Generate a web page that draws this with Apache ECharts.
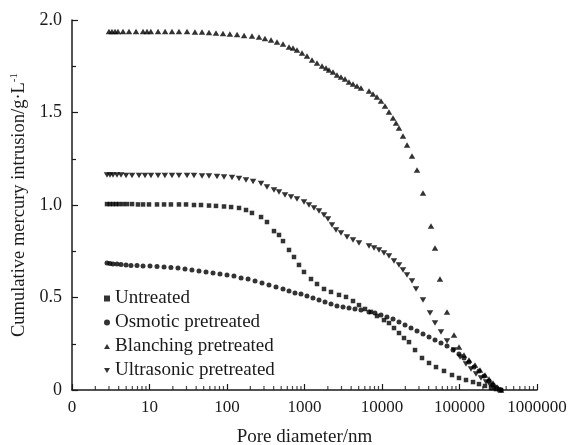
<!DOCTYPE html>
<html>
<head>
<meta charset="utf-8">
<script src="https://cdn.jsdelivr.net/npm/echarts@6/dist/echarts.min.js"></script>
<style>
html,body{margin:0;padding:0;background:#fff;}
#chart{width:571px;height:445px;}
</style>
</head>
<body>
<div id="chart"></div>
<script>
/* cumulative mercury intrusion vs pore diameter */
var names = ['Untreated', 'Osmotic pretreated', 'Blanching pretreated', 'Ultrasonic pretreated'];
var xTickLabels = ['0', '10', '100', '1000', '10000', '100000', '1000000'];
var yTickLabels = ['0', '0.5', '1.0', '1.5', '2.0'];

var untreated = [[2.83,1.005],[3.09,1.005],[3.38,1.005],[3.70,1.005],[4.04,1.005],[4.55,1.005],[5.13,1.005],[5.95,1.005],[7.10,1.003],[8.25,1.003],[9.85,1.003],[12.5,1.003],[15.4,1.003],[18.9,1.003],[24.0,1.003],[29.6,1.003],[37.5,1.000],[46.2,1.000],[58.6,0.997],[72.1,0.995],[91.5,0.992],[113,0.989],[143,0.984],[176,0.973],[210,0.957],[275,0.935],[328,0.908],[404,0.859],[469,0.838],[528,0.805],[631,0.757],[732,0.719],[849,0.676],[985,0.638],[1213,0.600],[1450,0.573],[1785,0.546],[2198,0.530],[2787,0.514],[3433,0.503],[4225,0.481],[5050,0.459],[6035,0.438],[7213,0.422],[8620,0.400],[10610,0.378],[12310,0.362],[14280,0.335],[16570,0.308],[19230,0.281],[22300,0.259],[26670,0.216],[32810,0.173],[40420,0.146],[49770,0.124],[63100,0.103],[80030,0.081],[98510,0.065],[121300,0.054],[149400,0.043],[178500,0.032],[213300,0.022],[255000,0.011],[295800,0.005],[343200,0]];

var osmotic = [[2.83,0.686],[3.09,0.684],[3.38,0.681],[3.81,0.681],[4.29,0.678],[4.98,0.676],[5.77,0.673],[6.90,0.673],[8.25,0.670],[10.15,0.670],[12.5,0.668],[15.4,0.665],[18.9,0.662],[23.3,0.659],[28.7,0.654],[35.3,0.649],[43.5,0.643],[53.6,0.638],[66.0,0.632],[81.2,0.627],[100,0.622],[123,0.616],[152,0.605],[187,0.600],[230,0.589],[283,0.578],[348,0.568],[429,0.557],[528,0.546],[631,0.535],[754,0.524],[901,0.519],[1077,0.508],[1287,0.497],[1539,0.486],[1839,0.476],[2198,0.465],[2626,0.454],[3140,0.449],[3753,0.443],[4483,0.438],[5358,0.432],[6796,0.422],[8122,0.416],[9707,0.405],[11600,0.395],[13870,0.384],[16570,0.368],[19810,0.351],[23670,0.335],[28300,0.319],[33810,0.303],[40420,0.286],[48310,0.270],[57710,0.254],[68990,0.238],[82450,0.216],[98510,0.195],[114300,0.173],[132600,0.151],[153900,0.124],[178500,0.103],[207100,0.076],[240300,0.049],[270600,0.027],[304800,0.011],[343200,0]];

var blanching = [[3.0,1.938],[3.28,1.938],[3.59,1.938],[3.92,1.938],[4.55,1.938],[5.44,1.938],[6.70,1.938],[8.25,1.938],[9.29,1.938],[10.4,1.938],[12.9,1.938],[15.9,1.938],[19.5,1.938],[24.0,1.938],[30.5,1.938],[38.6,1.935],[47.6,1.935],[58.6,1.932],[72.1,1.930],[88.8,1.927],[109,1.924],[135,1.922],[166,1.916],[210,1.914],[259,1.908],[309,1.900],[370,1.892],[442,1.881],[528,1.870],[631,1.854],[711,1.849],[800,1.838],[929,1.822],[1077,1.805],[1250,1.784],[1449,1.768],[1683,1.751],[1893,1.741],[2070,1.730],[2333,1.719],[2624,1.703],[2958,1.692],[3334,1.681],[3750,1.665],[4227,1.654],[4755,1.643],[5358,1.632],[6792,1.616],[7656,1.600],[8610,1.584],[9705,1.562],[10940,1.535],[12300,1.503],[13870,1.470],[15170,1.443],[16560,1.416],[18660,1.373],[21040,1.324],[24380,1.265],[28310,1.189],[33810,1.065],[42860,0.886],[48310,0.768],[55980,0.600],[69020,0.422],[84950,0.297],[98600,0.232],[114300,0.189],[132700,0.162],[158500,0.135],[184000,0.108],[213300,0.081],[240400,0.059],[270600,0.038],[304800,0.016],[343000,0]];

var ultrasonic = [[2.83,1.162],[3.09,1.162],[3.38,1.162],[3.81,1.162],[4.29,1.162],[4.98,1.159],[5.95,1.159],[7.32,1.159],[8.75,1.159],[10.45,1.159],[12.9,1.159],[15.8,1.159],[19.5,1.159],[24.0,1.159],[30.5,1.159],[37.5,1.159],[47.6,1.157],[58.6,1.157],[74.3,1.154],[91.5,1.151],[116,1.149],[143,1.143],[176,1.135],[217,1.127],[275,1.116],[328,1.097],[404,1.081],[469,1.070],[560,1.054],[670,1.043],[800,1.032],[985,1.016],[1143,1.000],[1327,0.984],[1539,0.968],[1785,0.946],[2010,0.924],[2264,0.892],[2550,0.865],[2958,0.849],[3536,0.827],[4225,0.811],[5050,0.795],[6796,0.778],[7886,0.768],[9148,0.757],[10610,0.741],[12310,0.724],[14280,0.697],[16570,0.676],[18660,0.649],[21020,0.622],[24380,0.589],[27470,0.546],[33810,0.486],[41630,0.416],[48310,0.362],[57710,0.314],[68990,0.265],[84940,0.216],[101500,0.178],[121300,0.141],[140700,0.114],[163300,0.086],[189400,0.065],[219800,0.043],[247500,0.027],[278700,0.011],[314000,0]];

// log minor ticks 2..9 in each decade
var minorTicks = [];
for (var k = 0; k < 6; k++) {
	for (var m = 2; m < 10; m++) {
		minorTicks.push([m * Math.pow(10, k), 0]);
	}
}

var font = 'Liberation Serif';
var ink = '#1a1a1a';

var myChart = echarts.init(document.getElementById('chart'));
var option = {
	backgroundColor: '#fff',
	animation: false,
	grid: {
		left: 72,
		right: 34,
		top: 20,
		bottom: 55,
		outerBoundsMode: 'none'
	},
	legend: {
		orient: 'vertical',
		left: 99,
		top: 284,
		itemWidth: 6,
		itemHeight: 6,
		itemGap: 5,
		textStyle: {
			fontFamily: font,
			fontSize: 19,
			color: ink
		},
		data: names
	},
	xAxis: {
		type: 'log',
		logBase: 10,
		min: 1,
		max: 1000000,
		name: 'Pore diameter/nm',
		nameLocation: 'middle',
		nameGap: 38,
		nameTextStyle: {
			fontFamily: font,
			fontSize: 19,
			color: ink
		},
		axisLine: {
			lineStyle: { color: ink, width: 1.5 }
		},
		axisTick: {
			inside: true,
			length: 6,
			lineStyle: { color: ink, width: 1.2 }
		},
		axisLabel: {
			fontFamily: font,
			fontSize: 17,
			color: ink,
			margin: 9,
			showMaxLabel: true,
			formatter: function (v) {
				return xTickLabels[Math.round(Math.log10(v))];
			}
		},
		splitLine: { show: false }
	},
	yAxis: {
		type: 'value',
		min: 0,
		max: 2,
		interval: 0.5,
		name: 'Cumulative mercury intrusion/g·L{sup|-1}',
		nameLocation: 'middle',
		nameGap: 42,
		nameTextStyle: {
			fontFamily: font,
			fontSize: 18.5,
			color: ink,
			rich: {
				sup: {
					fontFamily: font,
					fontSize: 11,
					color: ink,
					verticalAlign: 'top',
					padding: [0, 0, 9, 0]
				}
			}
		},
		axisLine: {
			show: true,
			lineStyle: { color: ink, width: 1.5 }
		},
		axisTick: {
			show: true,
			inside: true,
			length: 6,
			lineStyle: { color: ink, width: 1.2 }
		},
		minorTick: {
			show: true,
			splitNumber: 2,
			length: 4,
			lineStyle: { color: ink, width: 1.2 }
		},
		axisLabel: {
			fontFamily: font,
			fontSize: 18,
			color: ink,
			margin: 10,
			formatter: function (v) {
				return yTickLabels[Math.round(v / 0.5)];
			}
		},
		splitLine: { show: false }
	},
	series: [
		{
			name: names[0],
			type: 'scatter',
			symbol: 'rect',
			symbolSize: 4.5,
			itemStyle: { color: '#000' },
			data: untreated
		},
		{
			name: names[1],
			type: 'scatter',
			symbol: 'circle',
			symbolSize: 5,
			itemStyle: { color: '#000' },
			data: osmotic
		},
		{
			name: names[2],
			type: 'scatter',
			symbol: 'path://M5,0L10,8.5L0,8.5Z',
			symbolSize: [6.5, 5.5],
			itemStyle: { color: '#000' },
			data: blanching
		},
		{
			name: names[3],
			type: 'scatter',
			symbol: 'path://M0,0L10,0L5,8.5Z',
			symbolSize: [6.5, 5.5],
			itemStyle: { color: '#000' },
			data: ultrasonic
		},
		{
			name: 'minor',
			type: 'scatter',
			symbol: 'rect',
			symbolSize: [1.2, 4],
			symbolOffset: [0, -2],
			clip: false,
			silent: true,
			itemStyle: { color: ink },
			data: minorTicks
		}
	]
};
myChart.setOption(option);
</script>
</body>
</html>
